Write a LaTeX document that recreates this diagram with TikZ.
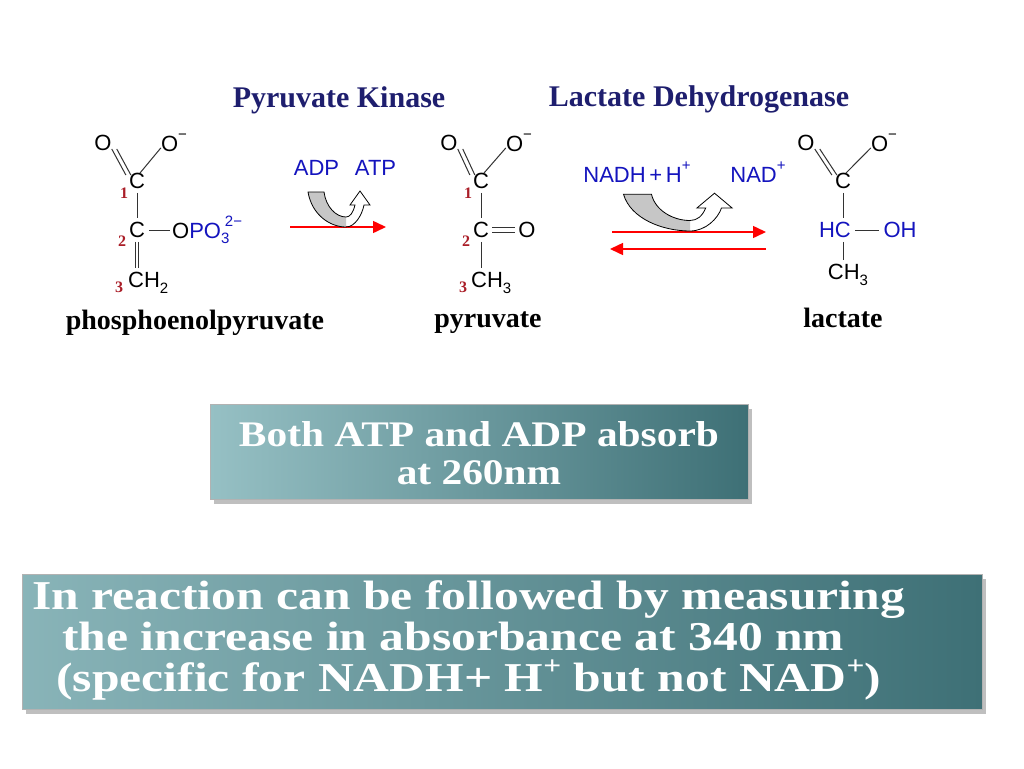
\documentclass[tikz,border=0pt]{standalone}
\usepackage{fontspec}
\setmainfont{Liberation Serif}
\newfontfamily\chem{Liberation Sans}
\usetikzlibrary{arrows.meta}
\definecolor{navy}{RGB}{30,30,110}
\definecolor{chblue}{RGB}{20,20,190}
\definecolor{numred}{RGB}{170,30,40}
\definecolor{tealL}{RGB}{150,192,196}
\definecolor{tealR}{RGB}{62,112,118}
\newcommand\supx[1]{\raisebox{1.0ex}{\fontsize{15}{15}\selectfont #1}}
\newcommand\subx[1]{\raisebox{-0.5ex}{\fontsize{15}{15}\selectfont #1}}
\tikzset{
 ch/.style={font=\chem\fontsize{22}{22}\selectfont, inner sep=0pt},
 chb/.style={ch, text=chblue},
 num/.style={font=\fontsize{16}{16}\selectfont\bfseries, text=numred, inner sep=0pt},
 ttl/.style={font=\fontsize{30}{30}\selectfont\bfseries, text=navy, inner sep=0pt},
 nm/.style={font=\fontsize{28}{28}\selectfont\bfseries, inner sep=0pt},
 bond/.style={line width=1pt, black!80},
 rxn/.style={red, line width=1.5pt, -{Triangle[length=13pt,width=12pt]}},
 tbox/.style={draw=black!30, left color=tealL, right color=tealR, inner sep=0pt},
 btxt/.style={text=white, font=\bfseries, align=center, inner sep=0pt}
}
\newcommand\cofarrow{%
 \begin{scope}
 \clip (-60,-60) rectangle (0,10);
 \fill[gray!45] (-38,-35) .. controls (-34,-12) and (-16,0) .. (0,0) -- (0,-10) .. controls (-10,-10) and (-20,-20) .. (-22,-35) -- cycle;
 \end{scope}
 \draw[line width=0.8pt] (-38,-35) .. controls (-34,-12) and (-16,0) .. (0,0)
   .. controls (9,0) and (16,-12) .. (18,-22) -- (24,-22) -- (14,-36) -- (4,-22) -- (9,-22)
   .. controls (7,-14) and (4,-10) .. (0,-10) .. controls (-10,-10) and (-20,-20) .. (-22,-35) -- cycle;
}
\begin{document}
\begin{tikzpicture}[x=1pt,y=-1pt]
\useasboundingbox[fill=white] (0,0) rectangle (1024,768);
% titles
\node[ttl] (t1) at (339,100) {Pyruvate Kinase};
\node[ttl] (t2) at (699,99) {Lactate Dehydrogenase};
% PEP
\node[ch] (a1) at (103,143) {O};
\node[ch] (a2) at (174,143) {O\supx{−}};
\node[ch] (a3) at (137,181) {C};
\node[num] (a4) at (124,193) {1};
\node[ch] (a5) at (137,230) {C};
\node[chb,anchor=west] (a6) at (172,230) {\textcolor{black}{O}PO\subx{3}\supx{\kern-0.3em 2−}};
\node[num] (a7) at (122,241) {2};
\node[ch,anchor=west] (a8) at (128,283) {CH\subx{2}};
\node[num] (a9) at (119,287) {3};
\draw[bond] ([xshift=3]a3.north) -- ([yshift=4]a2.south west);
\draw[bond] ([xshift=-3,yshift=-2]a3.north west) -- ([yshift=2]a1.south east);
\draw[bond] ([xshift=2,yshift=-2]a3.north west) -- ([xshift=5,yshift=2]a1.south east);
\draw[bond] ([yshift=-4]a3.south) -- ([yshift=4]a5.north);
\draw[bond] ([xshift=4]a5.east) -- ([xshift=-2]a6.west);
\draw[bond] ([xshift=-1.8,yshift=-4]a5.south) -- ([xshift=-1.8,yshift=4]a8.north west -| a5.south);
\draw[bond] ([xshift=1.8,yshift=-4]a5.south) -- ([xshift=1.8,yshift=4]a8.north west -| a5.south);
\node[nm] (n1) at (195,323) {phosphoenolpyruvate};
% arrow 1
\coordinate (r1a) at (290,227);
\coordinate (r1b) at (386,227);
\draw[rxn] (r1a) -- (r1b);
\node[chb] (c1) at (345,168) {ADP\ \ \,ATP};
\begin{scope}[shift={(346,227)}] \cofarrow \end{scope}
% pyruvate
\node[ch] (b1) at (449,143) {O};
\node[ch] (b2) at (519,143) {O\supx{−}};
\node[ch] (b3) at (481,181) {C};
\node[num] (b4) at (468,193) {1};
\node[ch] (b5) at (481,230) {C};
\node[ch] (b6) at (527,230) {O};
\node[num] (b7) at (466,241) {2};
\node[ch,anchor=west] (b8) at (471,283) {CH\subx{3}};
\node[num] (b9) at (463,287) {3};
\draw[bond] ([xshift=3]b3.north) -- ([yshift=4]b2.south west);
\draw[bond] ([xshift=-3,yshift=-2]b3.north west) -- ([yshift=2]b1.south east);
\draw[bond] ([xshift=2,yshift=-2]b3.north west) -- ([xshift=5,yshift=2]b1.south east);
\draw[bond] ([yshift=-4]b3.south) -- ([yshift=4]b5.north);
\draw[bond] ([xshift=3,yshift=2.5]b5.east) -- ([xshift=-3,yshift=2.5]b6.west);
\draw[bond] ([xshift=3,yshift=-2.5]b5.east) -- ([xshift=-3,yshift=-2.5]b6.west);
\draw[bond] ([yshift=-4]b5.south) -- ([yshift=4]b8.north west -| b5.south);
\node[nm] (n2) at (488,323) {pyruvate};
% arrow 2
\coordinate (r2a) at (612,232);
\coordinate (r2b) at (766,232);
\coordinate (r3a) at (766,249);
\coordinate (r3b) at (610,249);
\draw[rxn] (r2a) -- (r2b);
\draw[rxn] (r3a) -- (r3b);
\node[chb] (c2) at (637,172) {NADH\,+\,H\supx{+}};
\node[chb] (c3) at (758,172) {NAD\supx{+}};
\begin{scope}[shift={(690,231)},xscale=1.75,yscale=1.05] \cofarrow \end{scope}
% lactate
\node[ch] (d1) at (806,143) {O};
\node[ch] (d2) at (884,143) {O\supx{−}};
\node[ch] (d3) at (843,181) {C};
\node[chb,anchor=east] (d5) at (851,230) {HC};
\node[chb] (d6) at (900,230) {OH};
\node[ch] (d8) at (848,275) {CH\subx{3}};
\draw[bond] ([xshift=3]d3.north) -- ([yshift=4]d2.south west);
\draw[bond] ([xshift=-3,yshift=-2]d3.north west) -- ([yshift=2]d1.south east);
\draw[bond] ([xshift=2,yshift=-2]d3.north west) -- ([xshift=5,yshift=2]d1.south east);
\draw[bond] ([yshift=-4]d3.south) -- ([yshift=4]d5.north -| d3.south);
\draw[bond] ([xshift=4]d5.east) -- ([xshift=-4]d6.west);
\draw[bond] ([yshift=-4]d5.south -| d3.south) -- ([yshift=4]d8.north -| d3.south);
\node[nm] (n3) at (843,318) {lactate};
% boxes
\fill[black!25] (214,409) rectangle (752,504);
\node[tbox, minimum width=538, minimum height=95] (box1) at (479,452) {};
\node[btxt, font=\fontsize{36}{38}\selectfont\bfseries] (bt1) at (479,453) {\scalebox{1.15}[1]{Both ATP and ADP absorb}\\\scalebox{1.15}[1]{at 260nm}};
\fill[black!25] (26,579) rectangle (986,714);
\node[tbox, minimum width=960, minimum height=135, left color=tealL!85!tealR] (box2) at (502,642) {};
\node[btxt, font=\fontsize{41}{41}\selectfont\bfseries, align=left, anchor=west] (bt2) at (32,640) {\scalebox{1.21}[1]{In reaction can be followed by measuring}\\\scalebox{1.21}[1]{\hspace*{25pt}the increase in absorbance at 340 nm}\\\scalebox{1.21}[1]{\hspace*{20pt}(specific for NADH+ H\raisebox{0.9ex}{\fontsize{26}{26}\selectfont +} but not NAD\raisebox{0.9ex}{\fontsize{26}{26}\selectfont +})}};
\end{tikzpicture}
\end{document}
